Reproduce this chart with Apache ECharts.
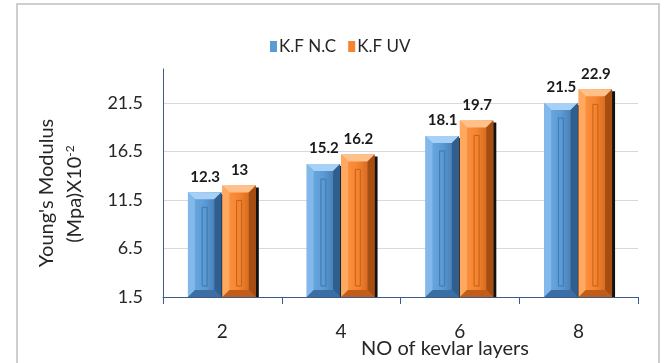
<!DOCTYPE html>
<html>
<head>
<meta charset="utf-8">
<script src="https://cdn.jsdelivr.net/npm/echarts@6/dist/echarts.min.js"></script>
<style>
  html, body { margin: 0; padding: 0; background: #fff; }
  #chart { width: 664px; height: 363px; }
</style>
</head>
<body>
<div id="chart"></div>
<script>
// Kevlar layer count vs Young's modulus, two treatments
const layers = ['2', '4', '6', '8'];
const kfNC = [12.3, 15.2, 18.1, 21.5];
const kfUV = [13, 16.2, 19.7, 22.9];
const seriesNames = ['K.F N.C', 'K.F UV'];
const yMin = 1.5, yMax = 25, yStep = 5;

const FONT = "Lato, 'Open Sans', sans-serif";

// colour sets for the bevelled columns
const palettes = [
  { face: '#5b9bd5', light: '#6fabe3', top: '#a6d0f5', left: '#82b8ea', right: '#2f5f8f', bottom: '#3b6fa3', groove: '#3f77b0' },
  { face: '#f5842f', light: '#ff9748', top: '#ffc08a', left: '#ffa860', right: '#a64d12', bottom: '#c25d19', groove: '#c4601c' }
];

function bevelBar(seriesIdx) {
  return function (params, api) {
    const cat = api.value(0);
    const val = api.value(1);
    const band = api.size([1, 0])[0];
    const bw = band * 0.29;
    const c = api.coord([cat, val]);
    const base = api.coord([cat, yMin]);
    const x0 = seriesIdx === 0 ? c[0] - bw : c[0];
    const x1 = x0 + bw;
    const yT = c[1];
    const yB = base[1];
    const b = Math.min(7, (yB - yT) / 3);
    const p = palettes[seriesIdx];
    const xr = x1 - 1;
    const children = [
      // dark drop edge on the right
      { type: 'rect', shape: { x: x0 + 2, y: yT + 2, width: bw, height: yB - yT - 2 },
        style: { fill: '#111' } },
      // main face
      { type: 'rect', shape: { x: x0, y: yT, width: xr - x0, height: yB - yT },
        style: { fill: new echarts.graphic.LinearGradient(0, 0, 1, 0, [
          { offset: 0, color: p.light }, { offset: 0.5, color: p.face }, { offset: 1, color: p.bottom }
        ]) } },
      // top bevel
      { type: 'polygon', shape: { points: [[x0, yT], [xr, yT], [xr - b, yT + b], [x0 + b, yT + b]] },
        style: { fill: p.top } },
      // left bevel
      { type: 'polygon', shape: { points: [[x0, yT], [x0 + b, yT + b], [x0 + b, yB - b], [x0, yB]] },
        style: { fill: p.left } },
      // right bevel
      { type: 'polygon', shape: { points: [[xr, yT], [xr, yB], [xr - b, yB - b], [xr - b, yT + b]] },
        style: { fill: p.right } },
      // bottom bevel
      { type: 'polygon', shape: { points: [[x0, yB], [x0 + b, yB - b], [xr - b, yB - b], [xr, yB]] },
        style: { fill: p.bottom } },
      // central groove
      { type: 'rect', shape: { x: (x0 + xr) / 2 - 2.5, y: yT + b + 8, width: 5, height: Math.max(0, yB - yT - 2 * b - 12) },
        style: { fill: 'none', stroke: p.groove, lineWidth: 1 } },
      // value label
      { type: 'text', x: (x0 + x1) / 2, y: yT - 8,
        style: { text: String(val), font: "bold 15px " + FONT, fill: '#1a1a1a', align: 'center', verticalAlign: 'bottom' } }
    ];
    return { type: 'group', children: children };
  };
}

const chart = echarts.init(document.getElementById('chart'), null, { renderer: 'canvas' });

chart.setOption({
  animation: false,
  backgroundColor: '#fff',
  textStyle: { fontFamily: FONT },
  legend: {
    data: seriesNames,
    left: 265, top: 33,
    itemWidth: 7, itemHeight: 11, itemGap: 12,
    icon: 'rect',
    textStyle: { fontSize: 17, color: '#262626', fontFamily: FONT, padding: [0, 0, 0, -3] }
  },
  grid: { left: 163, right: 26, top: 69, bottom: 66 },
  xAxis: {
    type: 'category',
    data: layers,
    axisLine: { lineStyle: { color: '#3b5b8e', width: 1 } },
    axisTick: { show: true, length: 7, lineStyle: { color: '#3b5b8e' } },
    axisLabel: { fontSize: 19, color: '#262626', margin: 25, fontFamily: FONT },
    splitLine: { show: false }
  },
  yAxis: {
    type: 'value',
    min: yMin, max: yMax, interval: yStep,
    axisLine: { show: true, lineStyle: { color: '#3b5b8e', width: 1 } },
    axisTick: { show: false },
    axisLabel: { fontSize: 18, color: '#262626', margin: 20, showMaxLabel: false, fontFamily: FONT },
    splitLine: { show: true, showMaxLine: false, lineStyle: { color: '#d9d9d9', width: 1 } }
  },
  series: [
    { name: seriesNames[0], type: 'custom', renderItem: bevelBar(0),
      itemStyle: { color: palettes[0].face },
      encode: { x: 0, y: 1 },
      data: kfNC.map((v, i) => [i, v]) },
    { name: seriesNames[1], type: 'custom', renderItem: bevelBar(1),
      itemStyle: { color: palettes[1].face },
      encode: { x: 0, y: 1 },
      data: kfUV.map((v, i) => [i, v]) }
  ],
  graphic: [
    // outer frame
    { type: 'rect', shape: { x: 17, y: 4, width: 642, height: 380 },
      style: { fill: 'none', stroke: '#cfcfcf', lineWidth: 2 }, silent: true },
    // y-axis title, two rotated lines
    { type: 'text', x: 47, y: 193, rotation: Math.PI / 2,
      style: { text: "Young's Modulus", font: "20px " + FONT, fill: '#262626', align: 'center', verticalAlign: 'middle' } },
    { type: 'text', x: 75, y: 194, rotation: Math.PI / 2,
      style: { text: '(Mpa)X10{sup|-2}', font: "20px " + FONT, fill: '#262626', align: 'center', verticalAlign: 'middle',
        rich: { sup: { fontSize: 12, verticalAlign: 'top', fontFamily: FONT, fill: '#262626', padding: [0, 0, 9, 0] } } } },
    // x-axis title
    { type: 'text', x: 445, y: 349,
      style: { text: 'NO of kevlar layers', font: "20px " + FONT, fill: '#262626', align: 'center', verticalAlign: 'middle' } }
  ]
});
</script>
</body>
</html>
